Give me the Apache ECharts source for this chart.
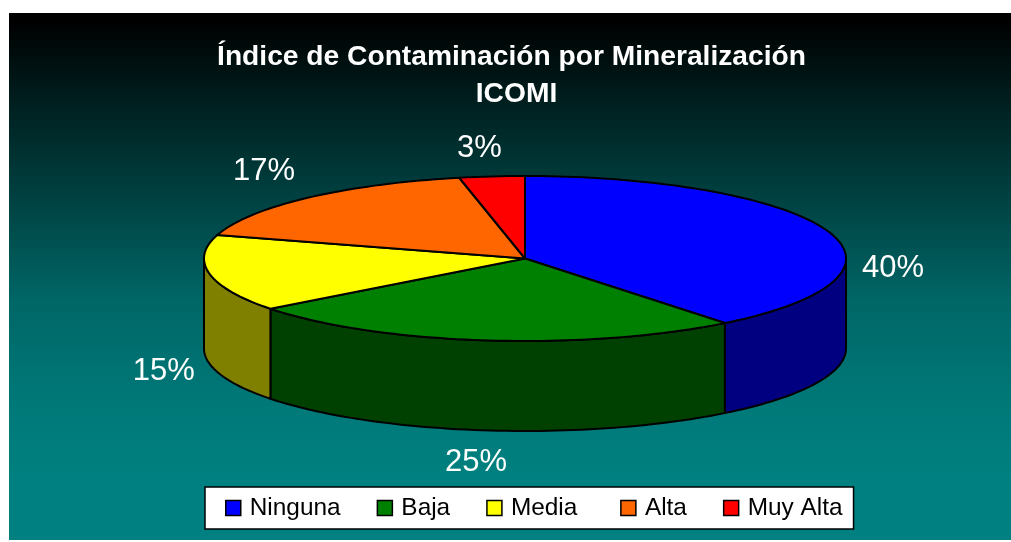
<!DOCTYPE html>
<html>
<head>
<meta charset="utf-8">
<style>html,body{margin:0;padding:0;background:#fff}#c{width:1011px;height:542px}</style>
<script src="https://cdn.jsdelivr.net/npm/echarts@6/dist/echarts.min.js"></script>
</head>
<body>
<div id="c"></div>
<script>
var categories = ['Ninguna', 'Baja', 'Media', 'Alta', 'Muy Alta'];
var values = [39.5, 25.4, 15.1, 17.2, 3.3];
var topColors = ['#0000ff', '#008000', '#ffff00', '#ff6600', '#ff0000'];
var wallColors = ['#000080', '#004000', '#808000', '#803300', '#800000'];
var titleLine1 = 'Índice de Contaminación por Mineralización';
var titleLine2 = 'ICOMI';

// projection of the tilted disc
var CX = 525, CY = 258.5, RX = 321, RY = 82.5, DEPTH = 90;
// label placement relative to the rim point at each slice's mid angle
var labelShift = [[65, 37], [-10, 122], [-45.5, 98], [-43.5, -26.6], [-12.5, -28]];

var total = values.reduce(function (a, b) { return a + b; }, 0);
function angleAt(i) {
  var s = 0;
  for (var k = 0; k < i; k++) s += values[k];
  return s / total * 360;
}
function rim(deg, drop) {
  var r = deg * Math.PI / 180;
  return [CX + RX * Math.sin(r), CY - RY * Math.cos(r) + (drop || 0)];
}
function arc(a, b, drop) {
  var pts = [], n = Math.max(2, Math.ceil(Math.abs(b - a) / 1.5));
  for (var j = 0; j <= n; j++) pts.push(rim(a + (b - a) * j / n, drop));
  return pts;
}
function sliceItem(i) {
  return function () {
    var a = angleAt(i), b = angleAt(i + 1), children = [];
    var line = { stroke: '#000', lineWidth: 2, lineJoin: 'round' };
    var wa = Math.max(a, 90), wb = Math.min(b, 270);
    if (wb > wa) {
      var pts = arc(wa, wb, 0).concat(arc(wb, wa, DEPTH));
      children.push({ type: 'polygon', shape: { points: pts },
        style: Object.assign({ fill: wallColors[i] }, line) });
    }
    children.push({ type: 'polygon', z2: 5, shape: { points: [[CX, CY]].concat(arc(a, b, 0)) },
      style: Object.assign({ fill: topColors[i] }, line) });
    var m = rim((a + b) / 2, 0);
    children.push({ type: 'text', z2: 10,
      style: { x: m[0] + labelShift[i][0], y: m[1] + labelShift[i][1],
        text: Math.round(values[i]) + '%', fill: '#fff',
        font: '31px "Liberation Sans", Arial, sans-serif',
        align: 'center', verticalAlign: 'middle' } });
    return { type: 'group', children: children };
  };
}

var chart = echarts.init(document.getElementById('c'), null, { renderer: 'canvas' });
var uiFont = '"Liberation Sans", Arial, sans-serif';
var titleStyle = { color: '#fff', fontFamily: uiFont, fontSize: 28.2, fontWeight: 'bold', lineHeight: 36 };
chart.setOption({
  animation: false,
  title: [
    { text: titleLine1, left: 506.5, top: 34, textAlign: 'center', textStyle: titleStyle },
    { text: titleLine2, left: 511.5, top: 71, textAlign: 'center', textStyle: titleStyle }
  ],
  graphic: [{
    type: 'rect', silent: true, z: -10, left: 9, top: 13,
    shape: { width: 1002, height: 527 },
    style: { fill: new echarts.graphic.LinearGradient(0, 0, 0, 1, [
      { offset: 0, color: '#000000' },
      { offset: 0.015, color: '#000000' },
      { offset: 0.165, color: '#001e1e' },
      { offset: 0.345, color: '#004040' },
      { offset: 0.545, color: '#006666' },
      { offset: 0.735, color: '#007878' },
      { offset: 0.885, color: '#008080' },
      { offset: 1, color: '#008080' }]) }
  }],
  legend: {
    data: categories, left: 205, top: 487, orient: 'horizontal',
    padding: [9, 11, 9, 20], itemGap: 36, itemWidth: 15, itemHeight: 15,
    icon: 'rect', backgroundColor: '#fff', borderColor: '#000', borderWidth: 1.5,
    itemStyle: { borderColor: '#000', borderWidth: 1.5 },
    formatter: function (n) { return n === 'Media' ? '{n|' + n + '}{g| }' : '{n|' + n + '}'; },
    textStyle: { color: '#000', fontSize: 24.4, fontFamily: uiFont,
      rich: {
        n: { fontSize: 24.4, fontFamily: uiFont, color: '#000', padding: [0, 0, 0, 4] },
        g: { fontSize: 24.4, fontFamily: uiFont, width: 6 }
      } }
  },
  series: categories.map(function (name, i) {
    return { type: 'custom', name: name, coordinateSystem: 'none', silent: true,
      itemStyle: { color: topColors[i] }, data: [values[i]], renderItem: sliceItem(i) };
  })
});
</script>
</body>
</html>
